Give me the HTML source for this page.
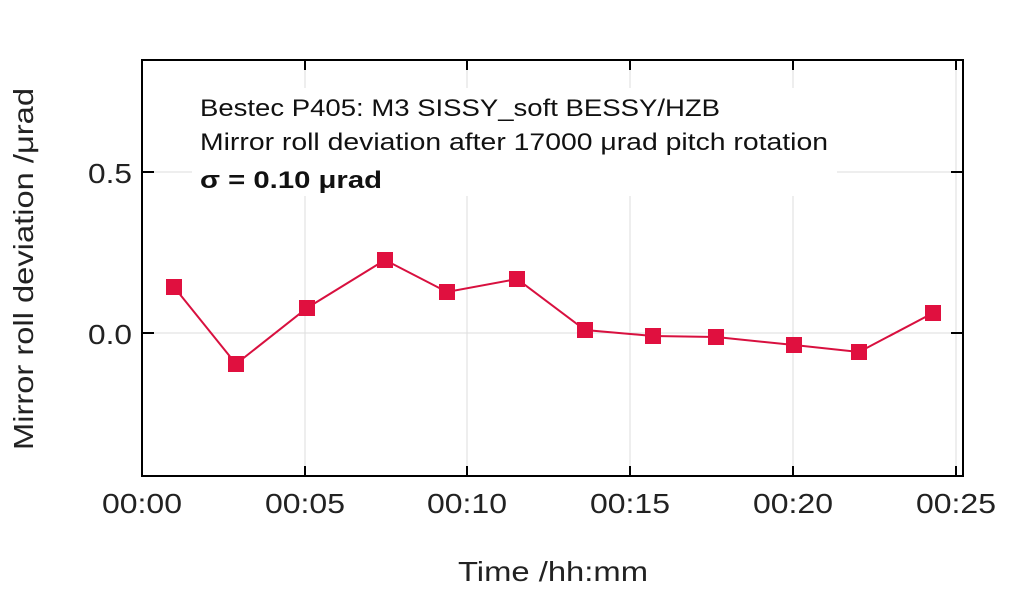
<!DOCTYPE html>
<html><head><style>body{margin:0;background:#fff}svg{display:block}</style></head><body>
<svg width="1024" height="589" xmlns="http://www.w3.org/2000/svg" font-family="'Liberation Sans',sans-serif">
<g stroke="#ddd" stroke-width="1">
<line x1="305" y1="60" x2="305" y2="476"/><line x1="467" y1="60" x2="467" y2="476"/>
<line x1="630" y1="60" x2="630" y2="476"/><line x1="793" y1="60" x2="793" y2="476"/>
<line x1="956" y1="60" x2="956" y2="476"/>
<line x1="142" y1="172" x2="963" y2="172"/><line x1="142" y1="333" x2="963" y2="333"/>
</g>
<rect x="192" y="88" width="645" height="108" fill="#fff"/>
<g stroke="#000" stroke-width="2" fill="none">
<rect x="142" y="60" width="821" height="416"/>
<path d="M305 60v10M467 60v10M630 60v10M793 60v10M956 60v10M305 476v-10M467 476v-10M630 476v-10M793 476v-10M956 476v-10M142 172h12M142 333h12M963 172h-12M963 333h-12"/>
</g>
<polyline fill="none" stroke="#d8103f" stroke-width="2" points="174,287 236,364 307,308 385,260 447,292 517,279 585,330 653,336 716,337 794,345 859,352 933,313"/>
<g fill="#e0103f">
<rect x="166" y="279" width="16" height="16"/><rect x="228" y="356" width="16" height="16"/>
<rect x="299" y="300" width="16" height="16"/><rect x="377" y="252" width="16" height="16"/>
<rect x="439" y="284" width="16" height="16"/><rect x="509" y="271" width="16" height="16"/>
<rect x="577" y="322" width="16" height="16"/><rect x="645" y="328" width="16" height="16"/>
<rect x="708" y="329" width="16" height="16"/><rect x="786" y="337" width="16" height="16"/>
<rect x="851" y="344" width="16" height="16"/><rect x="925" y="305" width="16" height="16"/>
</g>
<g font-size="24" fill="#111">
<text x="200" y="116" textLength="520" lengthAdjust="spacingAndGlyphs">Bestec P405: M3 SISSY_soft BESSY/HZB</text>
<text x="200" y="150" textLength="628" lengthAdjust="spacingAndGlyphs">Mirror roll deviation after 17000 μrad pitch rotation</text>
<text x="200" y="188" font-weight="bold" textLength="182" lengthAdjust="spacingAndGlyphs">σ = 0.10 μrad</text>
</g>
<g font-size="28" fill="#222">
<text x="88" y="183" textLength="44" lengthAdjust="spacingAndGlyphs">0.5</text>
<text x="88" y="344" textLength="44" lengthAdjust="spacingAndGlyphs">0.0</text>
<text x="102" y="513" textLength="80" lengthAdjust="spacingAndGlyphs">00:00</text>
<text x="265" y="513" textLength="80" lengthAdjust="spacingAndGlyphs">00:05</text>
<text x="427" y="513" textLength="80" lengthAdjust="spacingAndGlyphs">00:10</text>
<text x="590" y="513" textLength="80" lengthAdjust="spacingAndGlyphs">00:15</text>
<text x="753" y="513" textLength="80" lengthAdjust="spacingAndGlyphs">00:20</text>
<text x="916" y="513" textLength="80" lengthAdjust="spacingAndGlyphs">00:25</text>
<text x="458" y="581" textLength="190" lengthAdjust="spacingAndGlyphs">Time /hh:mm</text>
<text transform="translate(33,450) rotate(-90)" textLength="362" lengthAdjust="spacingAndGlyphs">Mirror roll deviation /μrad</text>
</g>
</svg>
</body></html>
